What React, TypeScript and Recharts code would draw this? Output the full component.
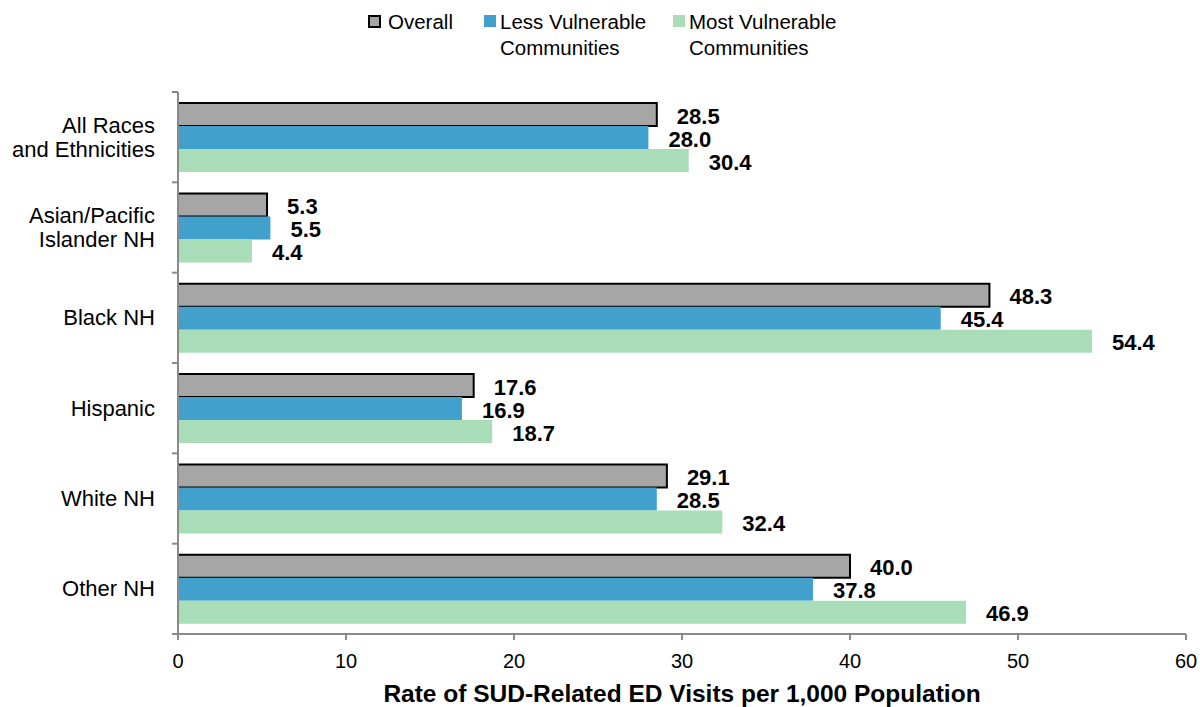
import React from "react";
import { BarChart, Bar, XAxis, YAxis, LabelList, Label } from "recharts";

const categories = ["All Races\nand Ethnicities", "Asian/Pacific\nIslander NH", "Black NH", "Hispanic", "White NH", "Other NH"];
const overall = [28.5, 5.3, 48.3, 17.6, 29.1, 40.0];
const lessVulnerable = [28.0, 5.5, 45.4, 16.9, 28.5, 37.8];
const mostVulnerable = [30.4, 4.4, 54.4, 18.7, 32.4, 46.9];
const xTicks = [0, 10, 20, 30, 40, 50, 60];
const seriesNames = ["Overall", "Less Vulnerable\nCommunities", "Most Vulnerable\nCommunities"];
const axisTitle = "Rate of SUD-Related ED Visits per 1,000 Population";

const data = categories.map((c, i) => ({
  category: c,
  overall: overall[i],
  less: lessVulnerable[i],
  most: mostVulnerable[i],
}));

const W = 1200;
const H = 707;
const M = { top: 92, right: 14, bottom: 0, left: 0 };
const X_AXIS_H = 73;
const Y_AXIS_W = 178;
const PLOT_H = H - M.top - M.bottom - X_AXIS_H;
const BAND = PLOT_H / categories.length;
const AXIS_GREY = "#8a8a8a";
const FONT = "'Liberation Sans', Arial, sans-serif";

const COLORS = { overall: "#a6a6a6", less: "#42a1cc", most: "#a9ddb7" };

const CategoryTick = (props: any) => {
  const { x, y, payload, index } = props;
  const lines = String(payload.value).split("\n");
  const lh = 24;
  const axisX = Y_AXIS_W + M.left;
  return (
    <g>
      <line x1={axisX - 6} x2={axisX} y1={y - BAND / 2} y2={y - BAND / 2} stroke={AXIS_GREY} strokeWidth={2} />
      {index === categories.length - 1 && (
        <line x1={axisX - 6} x2={axisX} y1={y + BAND / 2} y2={y + BAND / 2} stroke={AXIS_GREY} strokeWidth={2} />
      )}
      {lines.map((ln, i) => (
        <text
          key={i}
          x={x}
          y={y + 7.5 + (i - (lines.length - 1) / 2) * lh}
          textAnchor="end"
          fontSize={22}
          fontFamily={FONT}
          fill="#000"
        >
          {ln}
        </text>
      ))}
    </g>
  );
};

const valueLabel = (props: any) => {
  const { x, y, width, height, value } = props;
  return (
    <text
      x={x + width + 20}
      y={y + height / 2 + 9}
      fontSize={22}
      fontWeight="bold"
      fontFamily={FONT}
      fill="#000"
    >
      {Number(value).toFixed(1)}
    </text>
  );
};

const legendLefts = [368, 484, 673];
const legendColors = [COLORS.overall, COLORS.less, COLORS.most];

const LegendBox = () => (
  <div style={{ position: "absolute", left: 0, top: 0, width: W, height: 70, pointerEvents: "none" }}>
    {seriesNames.map((name, i) => (
      <div key={i} style={{ position: "absolute", left: legendLefts[i], top: 9 }}>
        <div
          style={{
            position: "absolute",
            left: 0,
            top: 6,
            width: i === 0 ? 13 : 12,
            height: i === 0 ? 13 : 12,
            boxSizing: "border-box",
            background: legendColors[i],
            border: i === 0 ? "2px solid #000" : "none",
          }}
        />
        <div
          style={{
            marginLeft: i === 0 ? 20 : 16,
            fontFamily: FONT,
            fontSize: 20.5,
            lineHeight: "26px",
            color: "#000",
            whiteSpace: "pre",
          }}
        >
          {name}
        </div>
      </div>
    ))}
  </div>
);

export default function App() {
  return (
    <div style={{ position: "absolute", left: 0, top: 0, width: W, height: H, background: "#fff" }}>
      <BarChart
        width={W}
        height={H}
        data={data}
        layout="vertical"
        margin={M}
        barCategoryGap="12.3%"
        barGap={0}
      >
        <XAxis
          type="number"
          domain={[0, 60]}
          ticks={xTicks}
          interval={0}
          height={X_AXIS_H}
          axisLine={{ stroke: AXIS_GREY, strokeWidth: 2 }}
          tickLine={{ stroke: AXIS_GREY, strokeWidth: 2 }}
          tickSize={6}
          tickMargin={14}
          tick={{ fontSize: 20, fill: "#000", fontFamily: FONT }}
        >
          <Label
            value={axisTitle}
            position="insideBottom"
            offset={5}
            style={{ fontSize: 24.5, fontWeight: "bold", fill: "#000", fontFamily: FONT }}
          />
        </XAxis>
        <YAxis
          type="category"
          dataKey="category"
          width={Y_AXIS_W}
          axisLine={{ stroke: AXIS_GREY, strokeWidth: 2 }}
          tickLine={false}
          tickSize={0}
          tickMargin={23}
          interval={0}
          tick={<CategoryTick />}
        />
        <Bar dataKey="overall" fill={COLORS.overall} stroke="#000" strokeWidth={2} isAnimationActive={false}>
          <LabelList dataKey="overall" content={valueLabel} />
        </Bar>
        <Bar dataKey="less" fill={COLORS.less} isAnimationActive={false}>
          <LabelList dataKey="less" content={valueLabel} />
        </Bar>
        <Bar dataKey="most" fill={COLORS.most} isAnimationActive={false}>
          <LabelList dataKey="most" content={valueLabel} />
        </Bar>
      </BarChart>
      <LegendBox />
    </div>
  );
}
